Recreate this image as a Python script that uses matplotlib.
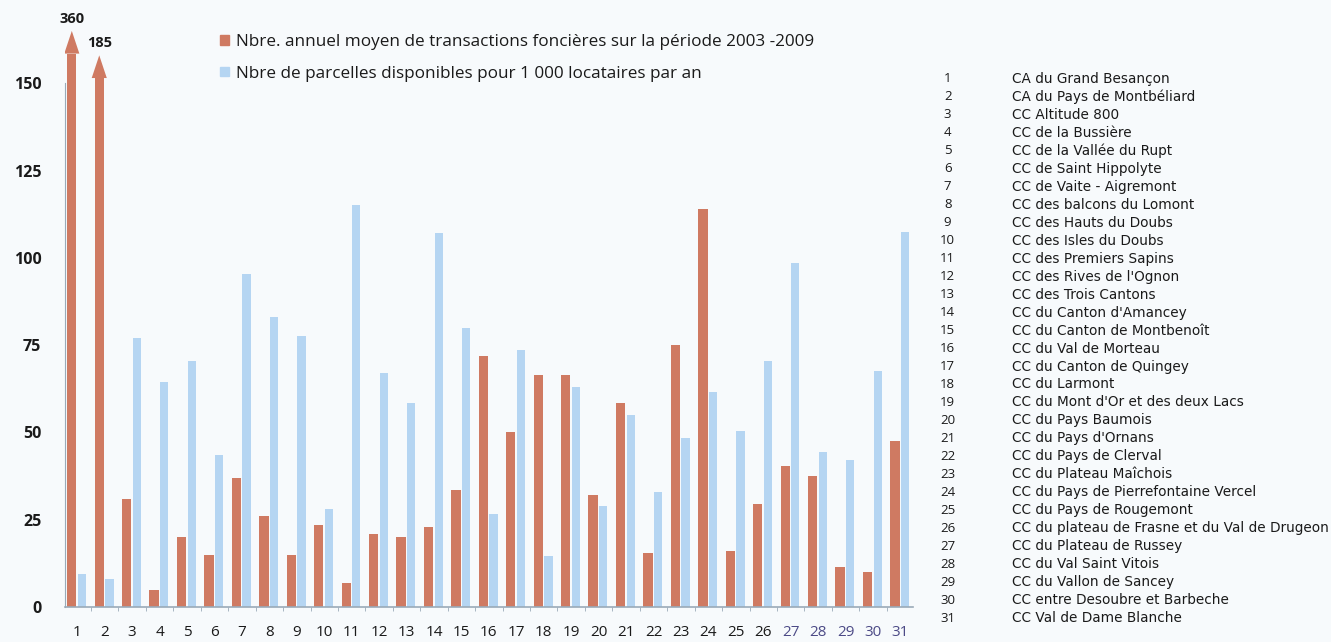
import matplotlib
matplotlib.use("Agg")
import matplotlib.pyplot as plt
import numpy as np

# Communautés du Doubs
communes = [
    "CA du Grand Besançon",
    "CA du Pays de Montbéliard",
    "CC Altitude 800",
    "CC de la Bussière",
    "CC de la Vallée du Rupt",
    "CC de Saint Hippolyte",
    "CC de Vaite - Aigremont",
    "CC des balcons du Lomont",
    "CC des Hauts du Doubs",
    "CC des Isles du Doubs",
    "CC des Premiers Sapins",
    "CC des Rives de l'Ognon",
    "CC des Trois Cantons",
    "CC du Canton d'Amancey",
    "CC du Canton de Montbenoît",
    "CC du Val de Morteau",
    "CC du Canton de Quingey",
    "CC du Larmont",
    "CC du Mont d'Or et des deux Lacs",
    "CC du Pays Baumois",
    "CC du Pays d'Ornans",
    "CC du Pays de Clerval",
    "CC du Plateau Maîchois",
    "CC du Pays de Pierrefontaine Vercel",
    "CC du Pays de Rougemont",
    "CC du plateau de Frasne et du Val de Drugeon",
    "CC du Plateau de Russey",
    "CC du Val Saint Vitois",
    "CC du Vallon de Sancey",
    "CC entre Desoubre et Barbeche",
    "CC Val de Dame Blanche",
]

transactions = [360, 185, 31, 5, 20, 15, 37, 26, 15, 23.5, 7, 21, 20, 23, 33.5, 72,
                50, 66.5, 66.5, 32, 58.5, 15.5, 75, 114, 16, 29.5, 40.5, 37.5, 11.5, 10, 47.5]
parcelles = [9.5, 8, 77, 64.5, 70.5, 43.5, 95.5, 83, 77.5, 28, 115, 67, 58.5, 107, 80, 26.5,
             73.5, 14.5, 63, 29, 55, 33, 48.5, 61.5, 50.5, 70.5, 98.5, 44.5, 42, 67.5, 107.5]

label_transactions = "Nbre. annuel moyen de transactions foncières sur la période 2003 -2009"
label_parcelles = "Nbre de parcelles disponibles pour 1 000 locataires par an"

_ORANGE = "#cf7a62"
_BLUE = "#b5d5f2"
_BG = "#f7fafc"
_AXIS = "#9aaab8"
_TXT = "#1a1a1a"
_YMAX = 171.0
_CLIP = 150.0                 # au-delà : barre tronquée avec flèche
_ARROW_TIPS = [165.0, 158.0]  # hauteur de la pointe des barres tronquées
_HEAD_LEN = 6.5
_HEAD_W = 0.55

plt.rcParams["font.family"] = ["Open Sans", "DejaVu Sans"]

fig = plt.figure(figsize=(13.31, 6.42), dpi=100, facecolor=_BG)
ax = fig.add_axes([0.0488, 0.0545, 0.637, 0.930])
ax.set_facecolor(_BG)

x = np.arange(1, len(communes) + 1)
vals_t = np.array(transactions, dtype=float)
vals_p = np.array(parcelles, dtype=float)

# barres tronquées : on coupe la tige sous la pointe de flèche
over = np.where(vals_t > _CLIP)[0]
shown_t = vals_t.copy()
for k, i in enumerate(over):
    shown_t[i] = _ARROW_TIPS[k] - _HEAD_LEN

ax.bar(x - 0.2, shown_t, width=0.34, color=_ORANGE, zorder=2)
ax.bar(x + 0.17, vals_p, width=0.30, color=_BLUE, zorder=2)

for k, i in enumerate(over):
    tip = _ARROW_TIPS[k]
    cx = x[i] - 0.2
    ax.fill([cx - _HEAD_W / 2, cx + _HEAD_W / 2, cx],
            [tip - _HEAD_LEN, tip - _HEAD_LEN, tip],
            color=_ORANGE, zorder=2, linewidth=0)
    ax.text(cx, tip + 1.5, f"{vals_t[i]:.0f}", ha="center", va="bottom",
            fontsize=10.5, fontweight="bold", color=_TXT)

ax.set_xlim(0.55, 31.45)
ax.set_ylim(0, _YMAX)

for side in ("top", "right"):
    ax.spines[side].set_visible(False)
ax.spines["left"].set_bounds(0, 150)
ax.spines["left"].set_color(_AXIS)
ax.spines["bottom"].set_color(_AXIS)
ax.spines["bottom"].set_linewidth(1.2)

ax.set_yticks(np.arange(0, 151, 25))
ax.tick_params(axis="y", length=0, pad=17, labelsize=11.5, labelcolor=_TXT)
for t in ax.get_yticklabels():
    t.set_fontweight("bold")

ax.set_xticks(x)
ax.set_xticklabels([str(i) for i in x])
ax.tick_params(axis="x", length=0, pad=13, labelsize=11, labelcolor=_TXT)
for t in ax.get_xticklabels()[26:]:
    t.set_color("#4c4a86")
ax.set_xticks(x[:-1] + 0.5, minor=True)
ax.tick_params(axis="x", which="minor", length=3, color=_AXIS, direction="out")

handles = [plt.Rectangle((0, 0), 1, 1, color=_ORANGE),
           plt.Rectangle((0, 0), 1, 1, color=_BLUE)]
ax.legend(handles, [label_transactions, label_parcelles], loc="upper left",
          bbox_to_anchor=(0.165, 0.985), frameon=False, fontsize=12.3,
          handlelength=0.5, handleheight=0.5, handletextpad=0.45,
          labelspacing=0.9, labelcolor=_TXT)

# correspondance numéro / communauté
y0, dy = 1 - 79 / 642, 17.97 / 642
for i, name in enumerate(communes):
    yy = y0 - i * dy
    fig.text(0.712, yy, str(i + 1), ha="center", va="center", fontsize=9.5, color=_TXT)
    fig.text(0.760, yy, name, ha="left", va="center", fontsize=9.8, color=_TXT,
             family=["Liberation Sans Narrow", "DejaVu Sans"])

fig.savefig("out.png", dpi=100, facecolor=_BG)
